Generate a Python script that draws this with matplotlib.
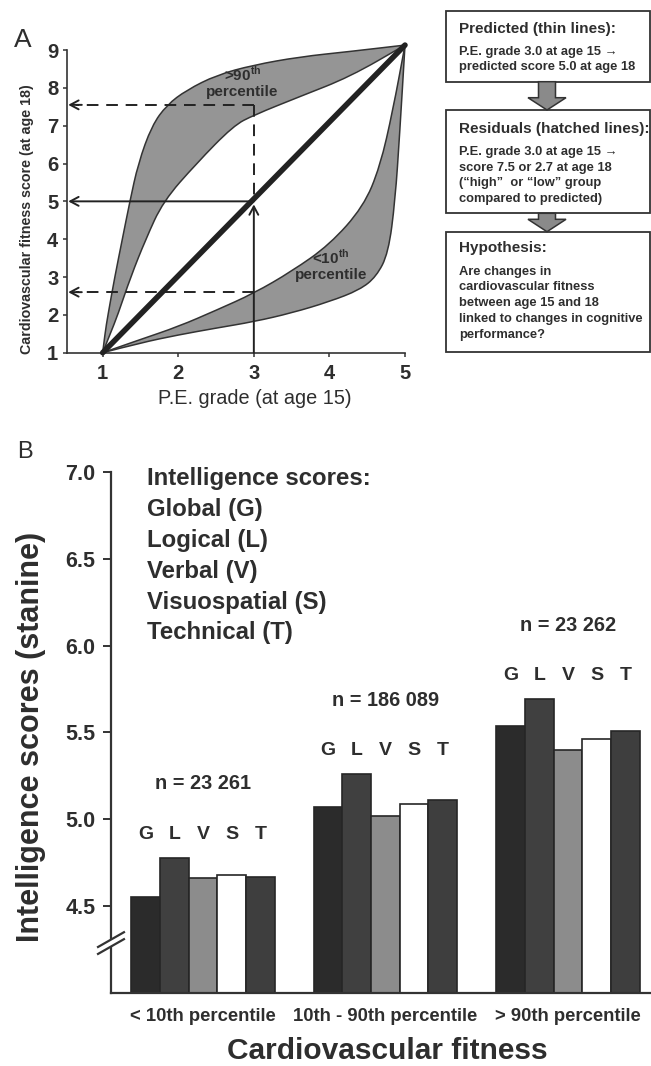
import matplotlib
matplotlib.use("Agg")
import matplotlib.pyplot as plt
import numpy as np
from matplotlib.patches import Rectangle, Polygon, PathPatch
from matplotlib.path import Path
import matplotlib.transforms as mtransforms

plt.rcParams['font.family'] = ['Liberation Sans', 'DejaVu Sans']
plt.rcParams['mathtext.fontset'] = 'custom'
plt.rcParams['mathtext.rm'] = 'Liberation Sans'
plt.rcParams['mathtext.bf'] = 'Liberation Sans:bold'

TXT = '#2e2e2e'

# ---------------- Panel A data ----------------
pe_ticks = [1, 2, 3, 4, 5]
score_ticks = [1, 2, 3, 4, 5, 6, 7, 8, 9]

upper_outer_x = [1.0, 1.03, 1.07, 1.16, 1.26, 1.36, 1.47, 1.65, 1.85, 2.11, 2.51, 2.99, 3.61, 4.27, 5.0]
upper_outer_y = [1.0, 1.5, 2.0, 3.0, 4.0, 5.0, 6.0, 7.0, 7.55, 7.94, 8.34, 8.6, 8.82, 8.96, 9.13]
upper_inner_x = [1.0, 1.1, 1.2, 1.37, 1.57, 1.80, 2.24, 2.73, 3.0, 3.61, 4.27, 5.0]
upper_inner_y = [1.0, 1.5, 2.0, 3.0, 4.0, 5.0, 6.0, 7.0, 7.28, 7.77, 8.29, 9.13]
lower_outer_x = [1.0, 1.5, 2.0, 2.5, 3.0, 3.5, 4.0, 4.40, 4.62, 4.78, 4.87, 4.93, 5.0]
lower_outer_y = [1.0, 1.26, 1.47, 1.65, 1.82, 2.05, 2.35, 2.66, 3.01, 3.63, 5.03, 6.8, 9.13]
lower_inner_x = [1.0, 1.5, 2.0, 2.5, 3.0, 3.5, 4.0, 4.45, 4.67, 4.84, 5.0]
lower_inner_y = [1.0, 1.35, 1.69, 2.12, 2.57, 3.15, 3.85, 4.86, 5.92, 7.41, 9.13]
predicted_x = [1.0, 5.0]
predicted_y = [1.0, 9.13]

pe_example = 3.0
pred_example = 5.0
high_example = 7.55
low_example = 2.6

box_titles = ['Predicted (thin lines):', 'Residuals (hatched lines):', 'Hypothesis:']
box_lines = [
    ['P.E. grade 3.0 at age 15 \u2192', 'predicted score 5.0 at age 18'],
    ['P.E. grade 3.0 at age 15 \u2192', 'score 7.5 or 2.7 at age 18',
     '(\u201chigh\u201d  or \u201clow\u201d group', 'compared to predicted)'],
    ['Are changes in', 'cardiovascular fitness', 'between age 15 and 18',
     'linked to changes in cognitive', 'performance?'],
]

# ---------------- Panel B data ----------------
groups = ['< 10th percentile', '10th - 90th percentile', '> 90th percentile']
group_n = ['n = 23 261', 'n = 186 089', 'n = 23 262']
score_letters = ['G', 'L', 'V', 'S', 'T']
score_names = ['Global (G)', 'Logical (L)', 'Verbal (V)', 'Visuospatial (S)', 'Technical (T)']
G = [4.55, 5.07, 5.54]
L = [4.78, 5.26, 5.69]
V = [4.66, 5.02, 5.40]
S = [4.68, 5.09, 5.46]
T = [4.67, 5.11, 5.51]
bar_colors = ['#2b2b2b', '#404040', '#8c8c8c', '#ffffff', '#3e3e3e']
yticks_B = [4.5, 5.0, 5.5, 6.0, 6.5, 7.0]

W, H = 651, 1066
fig = plt.figure(figsize=(W / 100, H / 100), dpi=100)

def fx(px):
    return px / W

def fy(py):
    return 1 - py / H

def smooth_verts(xs, ys):
    pts = list(zip(xs, ys))
    verts = [pts[0]]
    codes = [Path.MOVETO]
    for i in range(1, len(pts) - 1):
        mid = ((pts[i][0] + pts[i + 1][0]) / 2, (pts[i][1] + pts[i + 1][1]) / 2)
        verts += [pts[i], mid]
        codes += [Path.CURVE3, Path.CURVE3]
    verts.append(pts[-1])
    codes.append(Path.LINETO)
    return verts, codes

# ================= Panel A =================
axA = fig.add_axes([fx(66.7), fy(352.7), fx(405 - 66.7), (352.7 - 50) / H])
axA.set_xlim(0.524, 5.0)
axA.set_ylim(1.0, 9.0)
for s in ['top', 'right']:
    axA.spines[s].set_visible(False)
for s in ['left', 'bottom']:
    axA.spines[s].set_linewidth(1.2)
    axA.spines[s].set_color('#333333')
axA.set_xticks(pe_ticks)
axA.set_yticks(score_ticks)
axA.tick_params(axis='both', direction='out', length=3, width=1.1, color='#333333',
                labelsize=14.5, labelcolor=TXT)
axA.tick_params(axis='x', pad=5)
axA.tick_params(axis='y', pad=3)
for lab in axA.get_xticklabels() + axA.get_yticklabels():
    lab.set_fontweight('bold')

band_col = '#959595'
line_col = '#333333'
for (ox, oy), (ix, iy) in [((upper_outer_x, upper_outer_y), (upper_inner_x, upper_inner_y)),
                           ((lower_outer_x, lower_outer_y), (lower_inner_x, lower_inner_y))]:
    v1, c1 = smooth_verts(ox, oy)
    v2, c2 = smooth_verts(ix[::-1], iy[::-1])
    c2 = [Path.LINETO] + c2[1:]
    verts = v1 + v2 + [v1[0]]
    codes = c1 + c2 + [Path.CLOSEPOLY]
    axA.add_patch(PathPatch(Path(verts, codes), facecolor=band_col, edgecolor='none',
                            clip_on=False, zorder=1))
    for xs, ys in [(ox, oy), (ix, iy)]:
        v, c = smooth_verts(xs, ys)
        axA.add_patch(PathPatch(Path(v, c), facecolor='none', edgecolor=line_col, lw=1.1,
                                clip_on=False, zorder=2))
axA.plot(predicted_x, predicted_y, color='#222222', lw=4.0, solid_capstyle='round',
         clip_on=False, zorder=3)

x_left = axA.get_xlim()[0]
arrow_kw = dict(arrowstyle='->,head_length=0.6,head_width=0.32', lw=1.4, color='#222222',
                shrinkA=0, shrinkB=0)
axA.plot([pe_example, x_left + 0.12], [high_example, high_example], color='#222222', lw=1.4,
         dashes=(6, 4), zorder=4)
axA.plot([pe_example, pe_example], [high_example, pred_example], color='#222222', lw=1.4,
         dashes=(6, 4), zorder=4)
axA.plot([pe_example, x_left + 0.12], [low_example, low_example], color='#222222', lw=1.4,
         dashes=(6, 4), zorder=4)
axA.annotate('', xy=(x_left + 0.02, high_example), xytext=(x_left + 0.2, high_example),
             arrowprops=arrow_kw, zorder=4)
axA.annotate('', xy=(x_left + 0.02, low_example), xytext=(x_left + 0.2, low_example),
             arrowprops=arrow_kw, zorder=4)
axA.annotate('', xy=(pe_example, pred_example - 0.08), xytext=(pe_example, 1.0),
             arrowprops=arrow_kw, zorder=4)
axA.annotate('', xy=(x_left + 0.02, pred_example), xytext=(pe_example, pred_example),
             arrowprops=arrow_kw, zorder=4)

for (tx, ty), sup in [((2.85, 8.36), r'>90$^{\mathbf{th}}$'), ((4.02, 3.52), r'<10$^{\mathbf{th}}$')]:
    axA.text(tx, ty, sup, ha='center', va='center', fontsize=11, fontweight='bold',
             color=TXT, zorder=5)
    axA.text(tx, ty - 0.46, 'percentile', ha='center', va='center', fontsize=11,
             fontweight='bold', color=TXT, zorder=5)

axA.set_xlabel('P.E. grade (at age 15)', fontsize=14.3, color=TXT)
axA.xaxis.set_label_coords(0.557, -0.15)
axA.xaxis.label.set_verticalalignment('center')
axA.set_ylabel('Cardiovascular fitness score (at age 18)', fontsize=10.3, fontweight='bold',
               color=TXT)
axA.yaxis.set_label_coords(-0.117, 0.442)
axA.yaxis.label.set_verticalalignment('center')

# ================= Overlay (boxes, panel letters, legend text) =================
ov = fig.add_axes([0, 0, 1, 1], zorder=10)
ov.set_xlim(0, W)
ov.set_ylim(H, 0)
ov.axis('off')
ov.patch.set_alpha(0)

ov.text(23, 40, 'A', fontsize=19, ha='center', va='center', color=TXT)
ov.text(25, 452, 'B', fontsize=17, ha='center', va='center', color=TXT)

boxes = [(11, 81.7), (110, 213.3), (231.7, 351.7)]
title_y = [29, 129, 248]
body_y0 = [51.7, 151.7, 271.7]
body_dy = [15.0, 15.8, 15.8]
bx0, bx1 = 446, 649.5
for (top, bot), ttl, lines, ty, by0, bdy in zip(boxes, box_titles, box_lines, title_y, body_y0, body_dy):
    ov.add_patch(Rectangle((bx0, top), bx1 - bx0, bot - top, fill=False, lw=1.3,
                           edgecolor='#333333'))
    ov.text(bx0 + 13, ty, ttl, fontsize=11.0, fontweight='bold', ha='left', va='center',
            color=TXT)
    for k, ln in enumerate(lines):
        ov.text(bx0 + 13, by0 + k * bdy, ln, fontsize=9.3, fontweight='bold', ha='left',
                va='center', color=TXT)

def block_arrow(y_top, y_base, y_tip):
    cx = 547
    pts = [(cx - 8.5, y_top), (cx + 8.5, y_top), (cx + 8.5, y_base), (cx + 19, y_base),
           (cx, y_tip), (cx - 19, y_base), (cx - 8.5, y_base)]
    ov.add_patch(Polygon(pts, closed=True, facecolor='#8a8a8a', edgecolor='#333333', lw=1.1))

block_arrow(boxes[0][1], boxes[0][1] + 16, boxes[1][0])
block_arrow(boxes[1][1], boxes[1][1] + 6, boxes[2][0])

# ================= Panel B =================
axB = fig.add_axes([fx(111), fy(993), fx(540), (993 - 471.9) / H])
ymin_B = 4.0
axB.set_ylim(ymin_B, 7.0)
axB.set_xlim(-0.504, 2.455)
for s in ['top', 'right']:
    axB.spines[s].set_visible(False)
for s in ['left', 'bottom']:
    axB.spines[s].set_linewidth(1.6)
    axB.spines[s].set_color('#333333')
axB.set_yticks(yticks_B)
axB.set_yticklabels([f'{v:.1f}' for v in yticks_B])
axB.tick_params(axis='y', direction='out', length=6, width=1.4, color='#333333',
                labelsize=15.5, labelcolor=TXT, pad=5)
for lab in axB.get_yticklabels():
    lab.set_fontweight('bold')
xpos = np.arange(len(groups))
axB.set_xticks(xpos)
axB.set_xticklabels(groups, fontsize=13.3, fontweight='bold', color=TXT)
axB.tick_params(axis='x', length=0, pad=11)

bw = 0.157
series = [G, L, V, S, T]
for j, (vals, col) in enumerate(zip(series, bar_colors)):
    offs = (j - 2) * bw
    axB.bar(xpos + offs, np.array(vals) - ymin_B, bottom=ymin_B, width=bw, color=col,
            edgecolor='#262626', lw=1.2, zorder=2)

for i in range(len(groups)):
    gmax = max(s_[i] for s_ in series)
    for j, letter in enumerate(score_letters):
        axB.text(xpos[i] + (j - 2) * bw, gmax + 0.135, letter, ha='center', va='center',
                 fontsize=14, fontweight='bold', color=TXT)
    axB.text(xpos[i], gmax + 0.425, group_n[i], ha='center', va='center', fontsize=14.3,
             fontweight='bold', color=TXT)

legend_lines = ['Intelligence scores:'] + score_names
for k, ln in enumerate(legend_lines):
    ov.text(147, 479 + k * 30.8, ln, ha='left', va='center', fontsize=17.3,
            fontweight='bold', color=TXT)

axB.set_ylabel('Intelligence scores (stanine)', fontsize=22, fontweight='bold', color=TXT)
axB.yaxis.set_label_coords(-0.148, 0.491)
axB.yaxis.label.set_verticalalignment('center')
axB.set_xlabel('Cardiovascular fitness', fontsize=21.5, fontweight='bold', color=TXT)
axB.xaxis.set_label_coords(0.511, -0.1113)
axB.xaxis.label.set_verticalalignment('center')

# axis break marks
trB = mtransforms.blended_transform_factory(axB.transAxes, axB.transData)
brk_lo, rise, gap = 4.225, 0.085, 0.04
axB.fill([-0.024, 0.024, 0.024, -0.024],
         [brk_lo, brk_lo + rise, brk_lo + rise + gap, brk_lo + gap],
         transform=trB, color='white', clip_on=False, zorder=5, lw=0)
for b in [brk_lo, brk_lo + gap]:
    axB.plot([-0.024, 0.024], [b, b + rise], transform=trB, color='#333333', lw=1.6,
             clip_on=False, zorder=6)

fig.savefig('out.png', dpi=100)
